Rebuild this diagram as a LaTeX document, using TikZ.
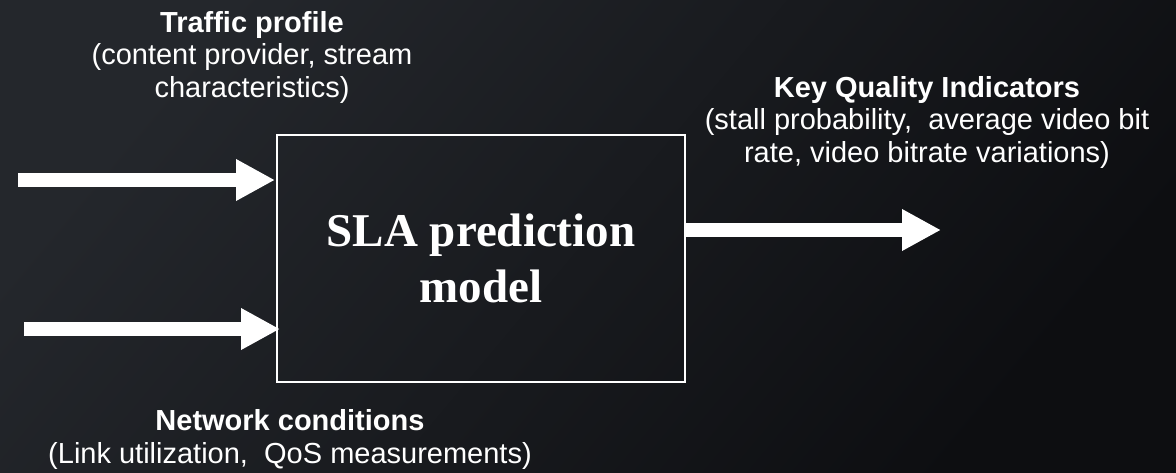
\documentclass[tikz,border=0pt]{standalone}
\usepackage{fontspec}
\setmainfont{Liberation Sans}
\newfontfamily\serifbold{Liberation Serif}
\usetikzlibrary{arrows.meta}
\definecolor{bgA}{RGB}{36,39,44}
\definecolor{bgB}{RGB}{13,14,17}
\begin{document}
\begin{tikzpicture}[x=1pt,y=-1pt,
  lbl/.style={text=white,align=center,inner sep=0pt,anchor=base,font=\fontsize{29}{32.5}\selectfont},
  bigarrow/.style={white,line width=13.5pt,-{Triangle[width=39pt,length=39pt]}},
  modelbox/.style={draw=white,line width=2pt,text=white,align=center,
    minimum width=408pt,minimum height=247pt,inner sep=0pt,
    font=\serifbold\bfseries\fontsize{47}{56}\selectfont}]
  \shade[top color=bgA,bottom color=bgB,shading angle=50] (0,0) rectangle (1176,472);
  \useasboundingbox (0,0) rectangle (1176,472);
  \node[modelbox] (m) at (481,258.5) {SLA prediction\\model};
  \coordinate (t1) at (18,180);
  \coordinate (t2) at (24,329);
  \coordinate (o) at (941,230);
  \draw[bigarrow] (t1) -- (275,180);
  \draw[bigarrow] (t2) -- (280,329);
  \draw[bigarrow] (m.east |- o) -- (o);
  \node[lbl] (traffic) at (252,97) {\textbf{Traffic profile}\\(content provider, stream\\characteristics)};
  \node[lbl] (kqi) at (927,162) {\textbf{Key Quality Indicators}\\(stall probability,\ \ average video bit\\rate, video bitrate variations)};
  \node[lbl] (net) at (290,463) {\textbf{Network conditions}\\(Link utilization,\ \ QoS measurements)};
\end{tikzpicture}
\end{document}
